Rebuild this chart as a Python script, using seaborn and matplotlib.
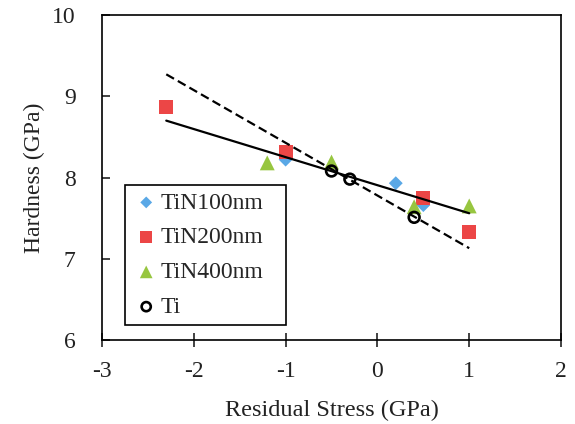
import numpy as np
import pandas as pd
import matplotlib
matplotlib.use("Agg")
import matplotlib.pyplot as plt
import seaborn as sns

# Hardness vs. residual stress for TiN coatings of different thickness and Ti
tin100_stress = [-1.0, 0.2, 0.5]
tin100_hard = [8.22, 7.93, 7.66]

tin200_stress = [-2.3, -1.0, 0.5, 1.0]
tin200_hard = [8.87, 8.31, 7.75, 7.33]

tin400_stress = [-1.2, -0.5, 0.4, 1.0]
tin400_hard = [8.18, 8.19, 7.64, 7.65]

ti_stress = [-0.5, -0.3, 0.4]
ti_hard = [8.08, 7.98, 7.51]

# Linear trend lines (end values over the fitted stress range)
fit_stress = [-2.3, 1.0]
tin_fit = [8.70, 7.56]
ti_fit = [9.27, 7.13]

x_ticks = [-3, -2, -1, 0, 1, 2]
y_ticks = [6, 7, 8, 9, 10]

sns.set_theme(style="white")
plt.rcParams["font.family"] = ["Liberation Serif", "DejaVu Serif"]

fig = plt.figure(figsize=(5.75, 4.24), dpi=100)
ax = fig.add_axes([0.1774, 0.1981, 0.7983, 0.7665])

blue = "#5AA8E6"
red = "#EC4646"
green = "#97C640"
ink = "#222222"

sns.scatterplot(x=tin100_stress, y=tin100_hard, ax=ax, marker="D", s=50,
                color=blue, edgecolor="none", label="TiN100nm", zorder=2)
sns.scatterplot(x=tin200_stress, y=tin200_hard, ax=ax, marker="s", s=100,
                color=red, edgecolor="none", label="TiN200nm", zorder=2)
sns.scatterplot(x=tin400_stress, y=tin400_hard, ax=ax, marker="^", s=115,
                color=green, edgecolor="none", label="TiN400nm", zorder=2)

sns.lineplot(x=fit_stress, y=tin_fit, ax=ax, color="black", lw=1.6,
             legend=False, zorder=3)
sns.lineplot(x=fit_stress, y=ti_fit, ax=ax, color="black", lw=1.6,
             linestyle=(0, (4, 2)), legend=False, zorder=3)

sns.scatterplot(x=ti_stress, y=ti_hard, ax=ax, marker="o", s=60,
                facecolor="none", edgecolor="black", linewidth=1.9,
                label="Ti", zorder=4)

ax.set_xlim(-3, 2)
ax.set_ylim(6, 10)
ax.set_xticks(x_ticks)
ax.set_yticks(y_ticks)
ax.set_xticklabels([str(t) for t in x_ticks])
ax.set_yticklabels([str(t) for t in y_ticks])

for side in ["top", "right", "bottom", "left"]:
    ax.spines[side].set_visible(True)
    ax.spines[side].set_color("black")
    ax.spines[side].set_linewidth(1.2)

ax.tick_params(axis="x", direction="inout", length=10, width=1.2,
               labelsize=17, pad=10, bottom=True, colors=ink)
ax.tick_params(axis="y", direction="in", length=6, width=1.2,
               labelsize=17, pad=19, left=True, colors=ink)

ax.set_xlabel("Residual Stress (GPa)", fontsize=17.5, color=ink, labelpad=13)
ax.set_ylabel("Hardness (GPa)", fontsize=17, color=ink, labelpad=5)

leg = ax.legend(loc="upper left", bbox_to_anchor=(0.05, 0.049, 0.351, 0.428),
                mode="expand", borderaxespad=0, fontsize=17, frameon=True,
                fancybox=False, edgecolor="black", framealpha=1,
                handlelength=1.2, handletextpad=0.0, labelspacing=0.56,
                borderpad=0.3, markerscale=0.85)
leg.get_frame().set_linewidth(1.2)

fig.savefig("out.png", dpi=100)
